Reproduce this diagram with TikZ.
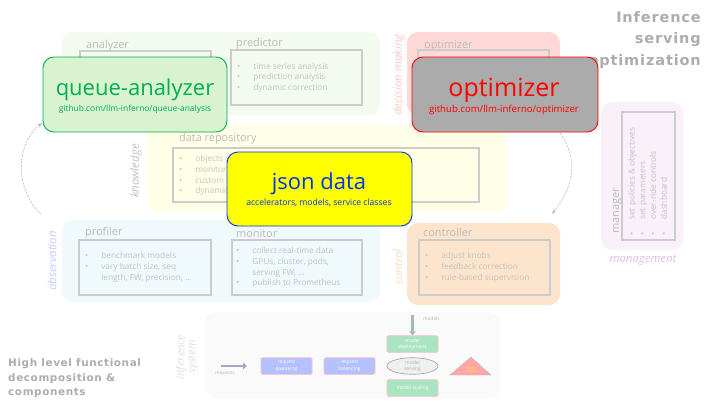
\documentclass[tikz,border=0pt]{standalone}
\usepackage{fontspec}
\setmainfont{Open Sans}
\newfontfamily\titlefont[LetterSpace=6]{DejaVu Sans}
\usetikzlibrary{arrows.meta,shapes.geometric}
\definecolor{qgreen}{RGB}{0,176,80}
\definecolor{qfill}{RGB}{217,242,208}
\definecolor{jblue}{RGB}{0,50,240}
\definecolor{jyellow}{RGB}{255,255,0}
\definecolor{ogray}{RGB}{171,171,171}
\definecolor{ored}{RGB}{255,0,0}
\definecolor{pgreen}{RGB}{243,250,240}
\definecolor{pred}{RGB}{255,217,215}
\definecolor{pyellow}{RGB}{255,255,232}
\definecolor{pblue}{RGB}{240,249,252}
\definecolor{porange}{RGB}{253,229,205}
\definecolor{pviolet}{RGB}{250,240,250}
\definecolor{sblue}{RGB}{180,192,255}
\definecolor{sgreen}{RGB}{170,228,195}
\definecolor{sborder}{RGB}{250,190,190}
\tikzset{
 x=1pt,y=-1pt,
 panel/.style={rounded corners=11pt},
 inbox/.style={draw=black!20,line width=1.2pt},
 head/.style={anchor=base west,text=black!27,font=\fontsize{10.9}{11}\selectfont,inner sep=0pt},
 items/.style={anchor=north west,text=black!24,font=\fontsize{8.3}{10.7}\selectfont,inner sep=0pt,align=left},
 axis/.style={rotate=90,anchor=center,inner sep=0pt,font=\itshape\fontsize{11.4}{12}\selectfont},
 big/.style={draw,rounded corners=11pt,line width=0.9pt},
 bigt/.style={inner sep=0pt,anchor=center,font=\fontsize{22}{24}\selectfont},
 subt/.style={inner sep=0pt,anchor=center,font=\fontsize{8.4}{9}\selectfont},
 titl/.style={anchor=base east,inner sep=0pt,text=black!32,font=\titlefont\bfseries\fontsize{14.5}{16}\selectfont},
 titr/.style={anchor=base west,inner sep=0pt,text=black!32,font=\titlefont\bfseries\fontsize{10.4}{13}\selectfont},
 flow/.style={draw=black!25,dash pattern=on 2.5pt off 1pt,line width=0.6pt,-{Stealth[length=5pt,width=4pt]}},
 small/.style={draw=sborder,line width=0.9pt,rounded corners=1.5pt,text=white,align=center,font=\fontsize{5}{6.2}\selectfont,inner sep=0pt,minimum height=16.5pt,minimum width=51pt,anchor=center},
 tiny/.style={text=black!28,inner sep=0pt,font=\fontsize{4.8}{6}\selectfont},
 fatarrow/.style={line width=2.5pt,-{Triangle[length=4pt,width=6.5pt]}},
}
\newcommand{\bitems}[1]{\begin{tabular}{@{}l@{\hspace{13pt}}l@{}}#1\end{tabular}}
\begin{document}
\begin{tikzpicture}
\useasboundingbox (0,0) rectangle (720,405);
\fill[white] (0,0) rectangle (720,405);
% titles
\node[titl] (t1) at (701,22) {Inference};
\node[titl] (t2) at (701,43) {serving};
\node[titl] (t3) at (701,65) {optimization};
\node[titr] (t4) at (8,366) {High level functional};
\node[titr] (t5) at (8,381) {decomposition \&};
\node[titr] (t6) at (8,395) {components};
% analysis
\fill[panel,fill=pgreen] (62,32) rectangle (380,115);
\node[axis,text=qgreen!30] (lana) at (52,78) {analysis};
\node[head] (han) at (86,48) {analyzer};
\draw[inbox] (80,51) rectangle (211,100);
\node[head] (hpr) at (236,46) {predictor};
\draw[inbox] (231,50) rectangle (362,105);
\node[items] (ipr) at (237,61.5) {\bitems{•&time series analysis\\•&prediction analysis\\•&dynamic correction}};
% decision
\fill[panel,fill=pred] (407,32) rectangle (560,115);
\node[axis,text=ored!22] (ldm) at (399,75) {decision making};
\node[head] (hop) at (424,48) {optimizer};
\draw[inbox] (418,50) rectangle (549,105);
% knowledge
\fill[panel,fill=pyellow] (147,125) rectangle (506,212);
\node[axis,text=black!25] (lkn) at (136,171) {knowledge};
\node[head] (hdr) at (179,141) {data repository};
\draw[inbox] (173,148) rectangle (479,202);
\node[items] (idr) at (179,154) {\bitems{•&objects of\\•&monitored\\•&custom\\•&dynamic}};
% observation
\fill[panel,fill=pblue] (62,220) rectangle (380,302);
\node[axis,text=blue!22] (lob) at (52,261) {observation};
\node[head] (hpf) at (85,235) {profiler};
\draw[inbox] (79,240) rectangle (211,295);
\node[items] (ipf) at (85,251) {\bitems{•&benchmark models\\•&vary batch size, seq\\&length, FW, precision, \dots}};
\node[head] (hmo) at (236,237) {monitor};
\draw[inbox] (232,240) rectangle (362,295);
\node[items] (imo) at (236,246) {\bitems{•&collect real-time data\\•&GPUs, cluster, pods,\\&serving FW, \dots\\•&publish to Prometheus}};
% control
\fill[panel,fill=porange] (407,223) rectangle (560,305);
\node[axis,text=orange!28] (lco) at (398,267) {control};
\node[head] (hco) at (423,236) {controller};
\draw[inbox] (419,240) rectangle (550,295);
\node[items] (ico) at (425,251) {\bitems{•&adjust knobs\\•&feedback correction\\•&rule-based supervision}};
% management
\fill[panel,fill=pviolet] (601,102) rectangle (683,250);
\draw[inbox] (622,112) rectangle (675,240);
\node[head,rotate=90] (hma) at (619,234) {manager};
\node[items,rotate=90] (ima) at (627,236) {\bitems{•&set policies \& objectives\\•&set parameters\\•&over-ride controls\\•&dashboard}};
\node[text=violet!25,inner sep=0pt,font=\itshape\fontsize{11.4}{12}\selectfont] (lma) at (643,260) {management};
% inference system
\fill[panel,fill=black!2] (205,312) rectangle (500,398);
\node[axis,text=black!12,align=center,font=\itshape\fontsize{11}{12}\selectfont] (lis) at (187,357) {inference\\[-1pt]system};
\coordinate (rs) at (221,366);
\coordinate (re) at (247,366);
\node[tiny] (lrq) at (225,373.5) {requests};
\node[small,fill=sblue] (nq) at (286.5,366) {request\\queueing};
\node[small,fill=sblue] (nb) at (349.5,366) {request\\balancing};
\node[small,fill=sgreen] (nd) at (412.5,344) {model\\deployment};
\node[draw=black!35,line width=0.7pt,fill=black!6,ellipse,minimum width=51pt,minimum height=16.5pt,inner sep=0pt,text=black!30,align=center,font=\fontsize{5}{6.2}\selectfont] (ns) at (412.5,366) {model\\serving};
\node[small,fill=sgreen] (nc) at (412.5,388) {model scaling};
\coordinate (ms) at (412.5,315);
\node[tiny,anchor=west] (lmo) at (423,319) {models};
\fill[fill=red!30!black!0!red!35,draw=black!25,line width=0.4pt] (450,375) -- (491,375) -- (471,357) -- cycle;
\fill[orange!50] (466,367) rectangle (475,368.5) (466,370) rectangle (475,371.5);
\draw[fatarrow,draw=blue!30!black!35] (rs) -- (re);
\draw[fatarrow,draw=sgreen!70!black!70] (ms) -- (nd);
% flow arcs
\coordinate (a1) at (41,214);
\coordinate (a2) at (42,123);
\coordinate (b1) at (560,133);
\coordinate (b2) at (552,214);
\draw[flow] (a1) .. controls (15,190) and (15,145) .. (a2);
\draw[flow] (b1) .. controls (578,158) and (575,185) .. (b2);
% overlay
\node[big,draw=qgreen,fill=qfill,minimum width=184pt,minimum height=75pt,inner sep=0pt] (qa) at (135,94.5) {};
\node[bigt,text=qgreen] (qat) at (135,90) {queue-analyzer};
\node[subt,text=qgreen] (qas) at (135,109) {github.com/llm-inferno/queue-analysis};
\node[big,draw=ored,fill=ogray,minimum width=186pt,minimum height=75pt,inner sep=0pt] (op) at (505,94.5) {};
\node[bigt,text=ored,font=\fontsize{25}{27}\selectfont] (opt) at (504,90) {optimizer};
\node[subt,text=ored,font=\fontsize{9.6}{10}\selectfont] (ops) at (504,110) {github.com/llm-inferno/optimizer};
\node[big,draw=jblue,fill=jyellow,minimum width=185pt,minimum height=74pt,inner sep=0pt] (js) at (319.5,189) {};
\node[bigt,text=jblue] (jst) at (319,184) {json data};
\node[subt,text=jblue,font=\fontsize{8.6}{9}\selectfont] (jss) at (319,203) {accelerators, models, service classes};
\end{tikzpicture}
\end{document}
